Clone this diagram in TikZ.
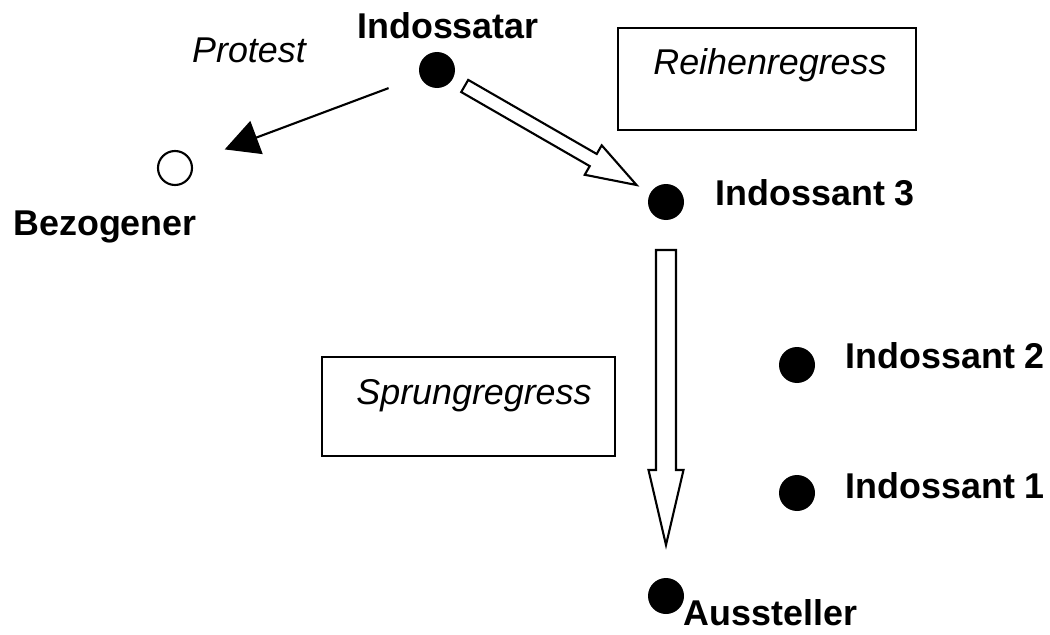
\documentclass[tikz,border=0pt]{standalone}
\usepackage{fontspec}
\setmainfont{Liberation Sans}
\usetikzlibrary{arrows.meta, calc}

\tikzset{
  dot/.style={circle, fill=black, inner sep=0pt, minimum size=0.36cm},
  opendot/.style={circle, draw=black, semithick, fill=white, inner sep=0pt, minimum size=0.34cm},
  party/.style={font=\fontsize{10.2}{12}\selectfont\bfseries, inner sep=0pt},
  remark/.style={font=\fontsize{10.2}{12}\selectfont\itshape, inner sep=0pt},
  regbox/.style={draw, semithick, inner sep=0pt},
  protest/.style={semithick, -{Triangle[length=0.34cm, width=0.35cm]}},
  hollow/.style={semithick, fill=white, line join=miter},
}

% hollow arrow: from, to, gap at start, gap at end, head length, shaft half width, head half width
\newcommand{\hollowarrow}[7]{%
  \coordinate (ha-s) at ($(#1)!#3!(#2)$);
  \coordinate (ha-e) at ($(#2)!#4!(#1)$);
  \coordinate (ha-b) at ($(ha-e)!#5!(ha-s)$);
  \draw[hollow] ($(ha-s)!#6!90:(ha-e)$) -- ($(ha-b)!#6!90:(ha-e)$)
    -- ($(ha-b)!#7!90:(ha-e)$) -- (ha-e) -- ($(ha-b)!#7!-90:(ha-e)$)
    -- ($(ha-b)!#6!-90:(ha-e)$) -- ($(ha-s)!#6!-90:(ha-e)$) -- cycle;
}

\begin{document}
\begin{tikzpicture}
	\useasboundingbox (0,0) rectangle (10.5,-6.35);
	% parties
	\node[dot] (indossatar) at (4.37,-0.70) {};
	\node[opendot] (bezogener) at (1.75,-1.68) {};
	\node[dot] (ind3) at (6.66,-2.02) {};
	\node[dot] (ind2) at (7.97,-3.65) {};
	\node[dot] (ind1) at (7.97,-4.93) {};
	\node[dot] (aussteller) at (6.66,-5.96) {};
	% their names
	\node[party, anchor=base] (l-indossatar) at (4.48,-0.38) {Indossatar};
	\node[party, anchor=base] (l-bezogener) at (1.05,-2.35) {Bezogener};
	\node[party, anchor=base west] (l-ind3) at (7.15,-2.05) {Indossant 3};
	\node[party, anchor=base west] (l-ind2) at (8.45,-3.68) {Indossant 2};
	\node[party, anchor=base west] (l-ind1) at (8.45,-4.98) {Indossant 1};
	\node[party, anchor=base west] (l-aussteller) at (6.83,-6.25) {Aussteller};
	% boxes
	\node[regbox, minimum width=2.98cm, minimum height=1.02cm] (reihen) at (7.67,-0.79) {};
	\node[remark, anchor=base] (l-reihen) at (7.70,-0.75) {Reihenregress};
	\node[regbox, minimum width=2.93cm, minimum height=0.99cm] (sprung) at (4.685,-4.065) {};
	\node[remark, anchor=base] (l-sprung) at (4.74,-4.04) {Sprungregress};
	\node[remark, anchor=base] (l-protest) at (2.49,-0.62) {Protest};
	% arrows
	\draw[protest, shorten <=0.33cm, shorten >=0.35cm] (indossatar) -- (bezogener);
	\hollowarrow{indossatar}{ind3}{0.32cm}{0.34cm}{0.50cm}{0.07cm}{0.17cm}
	\hollowarrow{ind3}{aussteller}{0.48cm}{0.51cm}{0.75cm}{0.10cm}{0.175cm}
\end{tikzpicture}
\end{document}
